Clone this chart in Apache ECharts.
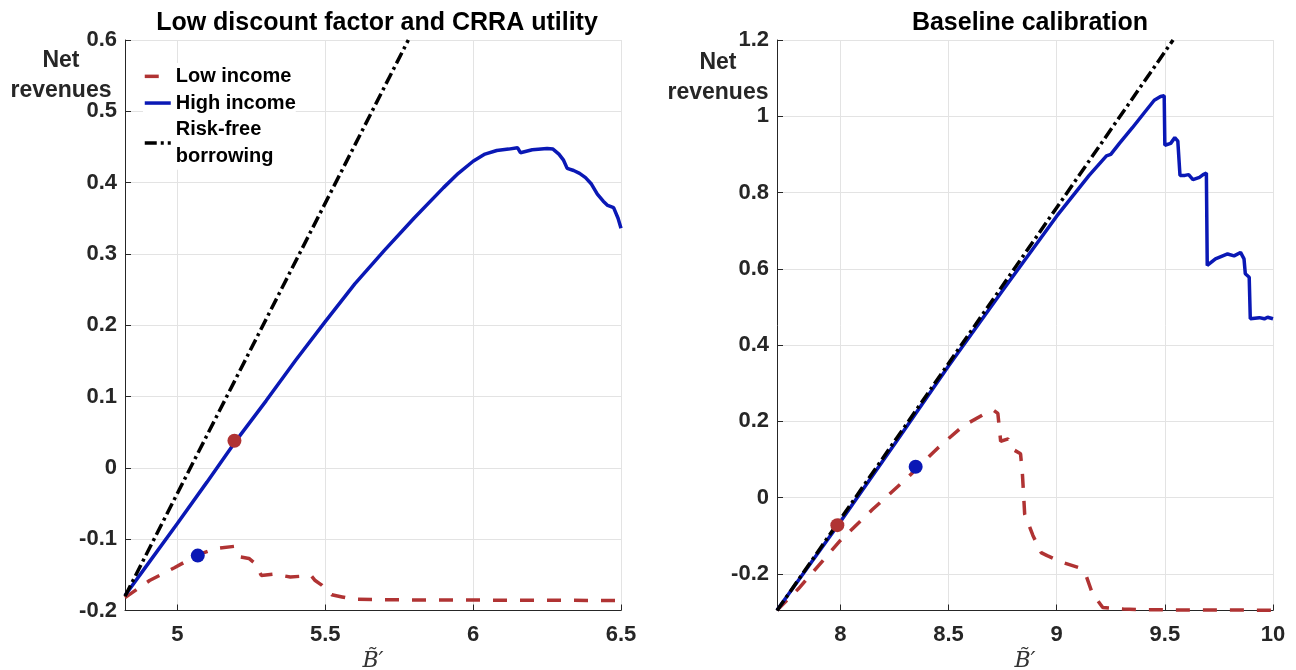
<!DOCTYPE html>
<html>
<head>
<meta charset="utf-8">
<script src="https://cdn.jsdelivr.net/npm/echarts@6/dist/echarts.min.js"></script>
<style>
  html, body { margin: 0; padding: 0; background: #fff; }
  #chart { width: 1296px; height: 670px; }
</style>
</head>
<body>
<div id="chart"></div>
<script>
// ---- data ----
const titles = ['Low discount factor and CRRA utility', 'Baseline calibration'];
const yName = 'Net\nrevenues';
const xName = 'B\u0303\u2032';

// left panel: low discount factor
const leftXTicks = [5, 5.5, 6, 6.5];
const leftYTicks = [-0.2, -0.1, 0, 0.1, 0.2, 0.3, 0.4, 0.5, 0.6];
const leftLow = [
  [4.823, -0.182], [4.906, -0.158], [4.99, -0.14], [5.069, -0.122], [5.13, -0.113],
  [5.193, -0.11], [5.214, -0.125], [5.242, -0.127], [5.263, -0.134], [5.284, -0.151],
  [5.326, -0.149], [5.382, -0.153], [5.452, -0.151], [5.466, -0.158], [5.487, -0.164],
  [5.522, -0.178], [5.557, -0.181], [5.592, -0.184], [5.7, -0.185], [6.5, -0.186]
];
const leftHigh = [
  [4.823, -0.179], [4.9, -0.135], [5.0, -0.078], [5.1, -0.02], [5.193, 0.035],
  [5.3, 0.094], [5.4, 0.151], [5.5, 0.205], [5.6, 0.258], [5.7, 0.305], [5.8, 0.35],
  [5.9, 0.393], [5.95, 0.413], [6.0, 0.43], [6.04, 0.44], [6.08, 0.445], [6.12, 0.447],
  [6.15, 0.449], [6.16, 0.442], [6.2, 0.446], [6.25, 0.448], [6.27, 0.447], [6.29, 0.44],
  [6.305, 0.432], [6.318, 0.42], [6.34, 0.417], [6.36, 0.413], [6.38, 0.407], [6.4, 0.398],
  [6.42, 0.384], [6.44, 0.374], [6.455, 0.368], [6.475, 0.365], [6.49, 0.35], [6.5, 0.336]
];
const leftRiskFree = [[4.823, -0.18], [5.781, 0.6]];
const leftLowDot = [[5.193, 0.038]];
const leftHighDot = [[5.069, -0.123]];

// right panel: baseline
const rightXTicks = [8, 8.5, 9, 9.5, 10];
const rightYTicks = [-0.2, 0, 0.2, 0.4, 0.6, 0.8, 1, 1.2];
const rightLow = [
  [7.707, -0.295], [7.806, -0.239], [8.0, -0.112], [8.148, -0.031], [8.3, 0.047],
  [8.452, 0.131], [8.567, 0.188], [8.662, 0.218], [8.709, 0.229], [8.728, 0.221],
  [8.741, 0.148], [8.776, 0.154], [8.8, 0.126], [8.833, 0.115], [8.842, 0.058],
  [8.852, -0.043], [8.89, -0.099], [8.928, -0.144], [8.956, -0.152], [9.023, -0.169],
  [9.099, -0.183], [9.137, -0.206], [9.165, -0.251], [9.213, -0.288], [9.308, -0.292],
  [9.403, -0.294], [10, -0.295]
];
const rightHigh = [
  [7.707, -0.295], [8.0, -0.063], [8.25, 0.14], [8.5, 0.345], [8.75, 0.543], [9.0, 0.738],
  [9.15, 0.845], [9.23, 0.896], [9.25, 0.9], [9.29, 0.929], [9.35, 0.97], [9.403, 1.008],
  [9.451, 1.042], [9.48, 1.052], [9.497, 1.054], [9.5, 0.924], [9.527, 0.929], [9.546, 0.944],
  [9.56, 0.935], [9.565, 0.935], [9.57, 0.845], [9.593, 0.845], [9.61, 0.847], [9.63, 0.834],
  [9.66, 0.84], [9.677, 0.847], [9.692, 0.851], [9.696, 0.609], [9.734, 0.626], [9.79, 0.639],
  [9.82, 0.634], [9.85, 0.643], [9.866, 0.626], [9.872, 0.587], [9.89, 0.578], [9.895, 0.469],
  [9.937, 0.472], [9.96, 0.469], [9.975, 0.473], [10, 0.469]
];
const rightRiskFree = [[7.707, -0.296], [9.538, 1.2]];
const rightLowDot = [[7.986, -0.072]];
const rightHighDot = [[8.348, 0.081]];

const seriesNames = ['Low income', 'High income', 'Risk-free borrowing'];

// ---- style ----
const RED = '#b03333';
const BLUE = '#0a18b5';
const TXT = '#262626';
const FONT = 'Liberation Sans';
const LW = 3.5;

function xAxis(gi, min, max, ticks) {
  return {
    type: 'value', gridIndex: gi, min: min, max: max,
    name: xName, nameLocation: 'middle', nameGap: 36,
    nameTextStyle: { fontFamily: 'DejaVu Serif', fontStyle: 'italic', fontSize: 22, color: '#333' },
    axisLine: { onZero: false, lineStyle: { color: TXT, width: 1 } },
    axisTick: { inside: true, length: 6, customValues: ticks, lineStyle: { color: TXT } },
    axisLabel: { customValues: ticks, margin: 13, fontFamily: FONT, fontWeight: 'bold', fontSize: 22, color: TXT },
    splitLine: { show: true, lineStyle: { color: '#e3e3e3', width: 1 } }
  };
}
function yAxis(gi, min, max, ticks) {
  return {
    type: 'value', gridIndex: gi, min: min, max: max,
    axisLine: { onZero: false, lineStyle: { color: TXT, width: 1 } },
    axisTick: { inside: true, length: 6, customValues: ticks, lineStyle: { color: TXT } },
    axisLabel: { customValues: ticks, margin: 8, fontFamily: FONT, fontWeight: 'bold', fontSize: 22, color: TXT },
    splitLine: { show: true, lineStyle: { color: '#e3e3e3', width: 1 } }
  };
}
function lineSeries(name, gi, data, color, type, z) {
  return {
    name: name, type: 'line', xAxisIndex: gi, yAxisIndex: gi, data: data,
    showSymbol: false, symbol: 'none', animation: false, z: z,
    lineStyle: { color: color, width: LW, type: type, cap: 'butt' },
    itemStyle: { color: color }
  };
}
function dotSeries(gi, data, color) {
  return {
    type: 'scatter', xAxisIndex: gi, yAxisIndex: gi, data: data,
    symbolSize: 14, itemStyle: { color: color, opacity: 1 }, z: 10, animation: false
  };
}

const chart = echarts.init(document.getElementById('chart'), null, { renderer: 'canvas' });
chart.setOption({
  backgroundColor: '#fff',
  animation: false,
  title: [
    { text: titles[0], left: 372, top: 6, textAlign: 'center',
      textStyle: { fontFamily: FONT, fontWeight: 'bold', fontSize: 25, color: '#000' } },
    { text: titles[1], left: 1025, top: 6, textAlign: 'center',
      textStyle: { fontFamily: FONT, fontWeight: 'bold', fontSize: 25, color: '#000' } },
    { text: yName, left: 56, top: 41, textAlign: 'center',
      textStyle: { fontFamily: FONT, fontWeight: 'bold', fontSize: 23, lineHeight: 30, color: TXT, align: 'center' } },
    { text: yName, left: 713, top: 43, textAlign: 'center',
      textStyle: { fontFamily: FONT, fontWeight: 'bold', fontSize: 23, lineHeight: 30, color: TXT, align: 'center' } }
  ],
  legend: {
    data: seriesNames, orient: 'vertical', left: 143, top: 63,
    itemWidth: 26, itemHeight: 14, itemGap: 0, padding: 0,
    backgroundColor: '#fff',
    formatter: n => n === 'Risk-free borrowing' ? 'Risk-free\nborrowing' : n,
    itemStyle: { opacity: 0 },
    lineStyle: { width: LW },
    textStyle: { fontFamily: FONT, fontWeight: 'bold', fontSize: 20, lineHeight: 26.7, color: '#000', padding: [0, 0, 0, 0] },
    selectedMode: false
  },
  grid: [
    { left: 125, top: 40, width: 496, height: 570.5, containLabel: false, outerBoundsMode: 'none' },
    { left: 777, top: 40, width: 496, height: 570.5, containLabel: false, outerBoundsMode: 'none' }
  ],
  xAxis: [
    xAxis(0, 4.823, 6.5, leftXTicks),
    xAxis(1, 7.707, 10, rightXTicks)
  ],
  yAxis: [
    yAxis(0, -0.2, 0.6, leftYTicks),
    yAxis(1, -0.2958, 1.2, rightYTicks)
  ],
  series: [
    lineSeries(seriesNames[0], 0, leftLow, RED, [14, 13], 3),
    lineSeries(seriesNames[1], 0, leftHigh, BLUE, 'solid', 3),
    lineSeries(seriesNames[2], 0, leftRiskFree, '#000', [12, 4, 3, 4], 4),
    dotSeries(0, leftLowDot, RED),
    dotSeries(0, leftHighDot, BLUE),
    lineSeries(seriesNames[0], 1, rightLow, RED, [14, 13], 3),
    lineSeries(seriesNames[1], 1, rightHigh, BLUE, 'solid', 3),
    lineSeries(seriesNames[2], 1, rightRiskFree, '#000', [12, 4, 3, 4], 4),
    dotSeries(1, rightLowDot, RED),
    dotSeries(1, rightHighDot, BLUE)
  ]
});
</script>
</body>
</html>
